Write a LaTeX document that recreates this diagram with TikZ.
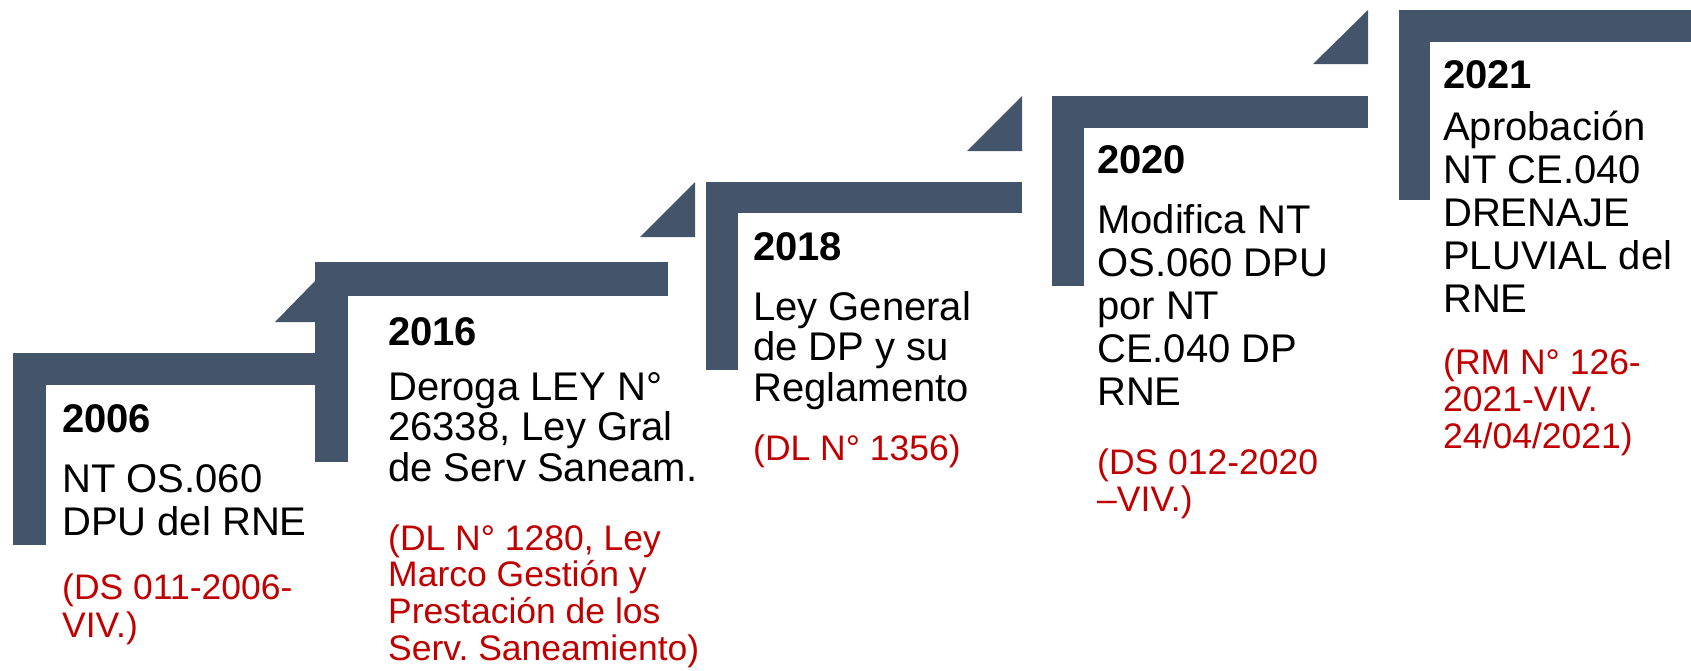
\documentclass[tikz,border=0pt]{standalone}
\usepackage{fontspec}
\setmainfont{Liberation Sans}
\frenchspacing
\definecolor{pizarra}{HTML}{44546A}
\definecolor{rojo}{HTML}{C00000}
\newcommand{\lineas}[1]{\begin{tabular}[t]{@{}l@{}}#1\end{tabular}}
\begin{document}
\begin{tikzpicture}[x=1pt,y=-1pt,
  escalon/.style={fill=pizarra},
  anio/.style={anchor=base west,inner sep=0pt,font=\fontsize{40}{43}\selectfont\bfseries},
  cuerpo/.style={anchor=base west,inner sep=0pt,font=\fontsize{40}{43}\selectfont},
  nota/.style={anchor=base west,inner sep=0pt,text=rojo,font=\fontsize{35.5}{37}\selectfont}]
  \useasboundingbox (0,0) rectangle (1691,670);
  % Escalones: borde, ancho, arriba, grosor, abajo, fin de la barra
  \foreach \xl/\w/\yt/\th/\yb/\xe in {13/33/353/32/545/315, 315/33/262/34/462/668,
      706/32/182/31/370/1022, 1052/32/96/32/286/1368, 1399/31/10/32/200/1691} {
    \fill[escalon] (\xl,\yt) rectangle (\xl+\w,\yb);
    \fill[escalon] (\xl,\yt) rectangle (\xe,\yt+\th);
  }
  % Triangulos
  \foreach \xa/\xb/\ya/\yb in {275/315/281/322, 640/695/182/237, 967/1022/96/151, 1313/1368/10/64} {
    \fill[escalon] (\xa,\yb) -- (\xb,\yb) -- (\xb,\ya) -- cycle;
  }
  % 2006
  \node[anio] (a2006) at (62,432) {2006};
  \node[cuerpo] (c2006) at (62,492) {\lineas{NT OS.060\\DPU del RNE}};
  \node[nota,font=\fontsize{35.5}{38.5}\selectfont] (n2006) at (62,599) {\lineas{(DS 011-2006-\\VIV.)}};
  % 2016
  \node[anio] (a2016) at (388,345) {2016};
  \node[cuerpo,font=\fontsize{40}{38.5}\selectfont] (c2016) at (388,400)
    {\lineas{Deroga LEY N°\\26338, Ley Gral\\de Serv Saneam.}};
  \node[nota,font=\fontsize{35.5}{36}\selectfont] (n2016) at (388,550)
    {\lineas{(DL N° 1280, Ley\\Marco Gestión y\\Prestación de los\\Serv. Saneamiento)}};
  % 2018
  \node[anio] (a2018) at (753,260) {2018};
  \node[cuerpo,font=\fontsize{40}{38.5}\selectfont] (c2018) at (753,320)
    {\lineas{Ley General\\de DP y su\\Reglamento}};
  \node[nota] (n2018) at (753,460) {(DL N° 1356)};
  % 2020
  \node[anio] (a2020) at (1097,173) {2020};
  \node[cuerpo] (c2020) at (1097,233) {\lineas{Modifica NT\\OS.060 DPU\\por NT\\CE.040 DP\\RNE}};
  \node[nota] (n2020) at (1097,474) {\lineas{(DS 012-2020\\–VIV.)}};
  % 2021
  \node[anio] (a2021) at (1443,88) {2021};
  \node[cuerpo] (c2021) at (1443,140) {\lineas{Aprobación\\NT CE.040\\DRENAJE\\PLUVIAL del\\RNE}};
  \node[nota] (n2021) at (1443,374) {\lineas{(RM N° 126-\\2021-VIV.\\24/04/2021)}};
\end{tikzpicture}
\end{document}
